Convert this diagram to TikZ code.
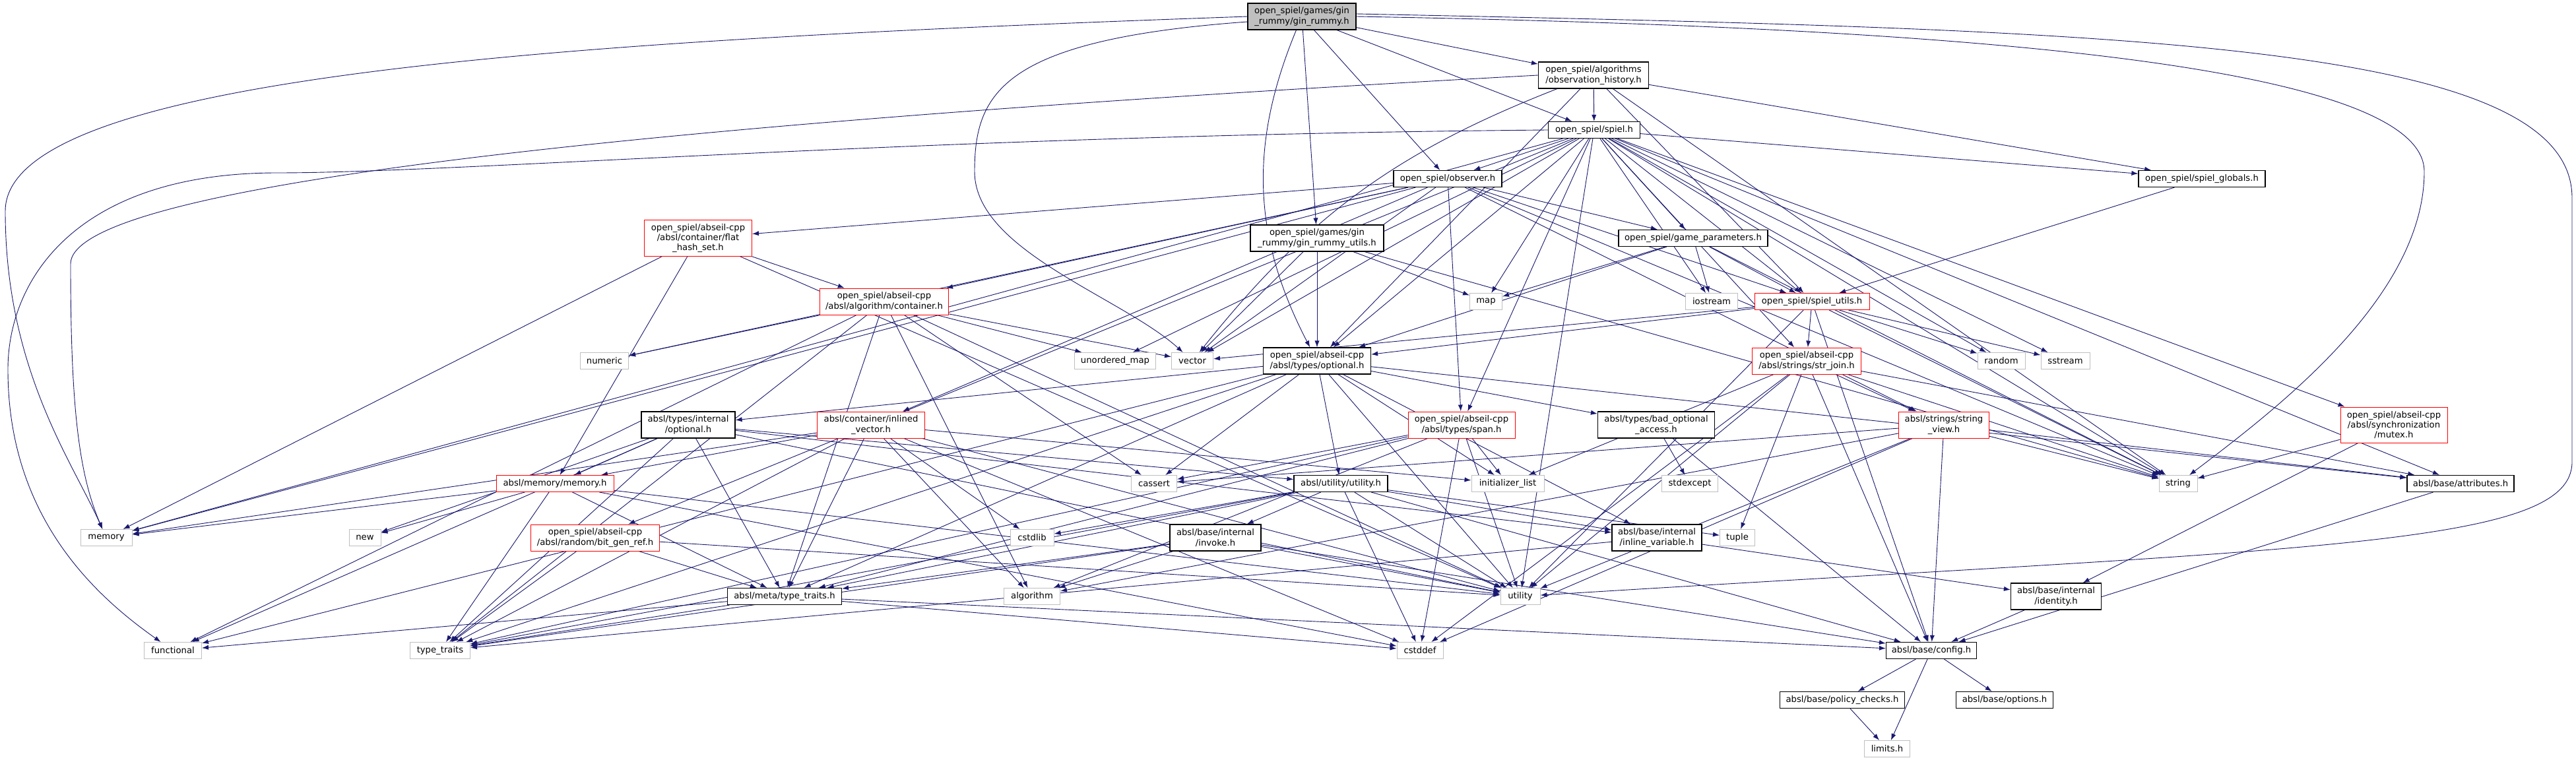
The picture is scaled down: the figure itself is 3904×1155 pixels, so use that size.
\documentclass[tikz,border=0pt]{standalone}
\usepackage{fontspec}
\setmainfont{DejaVu Sans}
\usetikzlibrary{arrows.meta,backgrounds}
\definecolor{edgeblue}{HTML}{191970}
\definecolor{sysgray}{HTML}{BFBFBF}
\definecolor{rootgray}{HTML}{BFBFBF}
\tikzset{
  hdr/.style   ={draw=black, rectangle, fill=white, align=center, inner sep=1pt, minimum height=12.5pt, line width=0.6pt, font=\fontsize{6.6}{7.7}\selectfont},
  trunc/.style ={hdr, draw=red, line width=0.5pt},
  sys/.style   ={hdr, draw=sysgray, line width=0.5pt},
  root/.style  ={hdr, fill=rootgray},
  two/.style   ={minimum height=20pt},
  three/.style ={minimum height=27pt},
  inc/.style   ={color=edgeblue, line width=0.45pt, -{Latex[length=5pt,width=3.6pt]}},
}

\begin{document}
\begin{tikzpicture}[x=0.5pt, y=-0.5pt]
  \useasboundingbox (0,0) rectangle (3904,1155);

  % rows from top to bottom
  \node[root, two, minimum width=82pt] (gin) at (1973,25) {open\_spiel/games/gin\\\_rummy/gin\_rummy.h};
  \node[hdr, two, minimum width=83.5pt] (obs) at (2415,114) {open\_spiel/algorithms\\/observation\_history.h};
  \node[hdr, minimum width=69.5pt] (spiel) at (2416,197) {open\_spiel/spiel.h};
  \node[hdr, minimum width=82pt] (observer) at (2194,271) {open\_spiel/observer.h};
  \node[hdr, minimum width=96pt] (globals) at (3337,271) {open\_spiel/spiel\_globals.h};
  \node[trunc, three, minimum width=81.5pt] (fhs) at (1058,361) {open\_spiel/abseil-cpp\\/absl/container/flat\\\_hash\_set.h};
  \node[hdr, two, minimum width=101pt] (ginu) at (1996,361) {open\_spiel/games/gin\\\_rummy/gin\_rummy\_utils.h};
  \node[hdr, minimum width=113pt] (gparams) at (2566,361) {open\_spiel/game\_parameters.h};
  \node[trunc, two, minimum width=97.5pt] (cont) at (1340,457) {open\_spiel/abseil-cpp\\/absl/algorithm/container.h};
  \node[sys, minimum width=24.5pt] (map) at (2252,457) {map};
  \node[sys, minimum width=39.5pt] (iostream) at (2594,457) {iostream};
  \node[trunc, minimum width=87pt] (sutils) at (2746,457) {open\_spiel/spiel\_utils.h};
  \node[sys, minimum width=36.5pt] (numeric) at (916,547) {numeric};
  \node[sys, minimum width=61.5pt] (umap) at (1690,547) {unordered\_map};
  \node[sys, minimum width=31.5pt] (vector) at (1807,547) {vector};
  \node[hdr, two, minimum width=81.5pt] (opt) at (1996,547) {open\_spiel/abseil-cpp\\/absl/types/optional.h};
  \node[trunc, two, minimum width=82.5pt] (strjoin) at (2738,547) {open\_spiel/abseil-cpp\\/absl/strings/str\_join.h};
  \node[sys, minimum width=36pt] (random) at (3033,547) {random};
  \node[sys, minimum width=37pt] (sstream) at (3130,547) {sstream};
  \node[hdr, two, minimum width=71pt] (iopt) at (1043,644) {absl/types/internal\\/optional.h};
  \node[trunc, two, minimum width=81.5pt] (inlv) at (1320,644) {absl/container/inlined\\\_vector.h};
  \node[trunc, two, minimum width=81pt] (span) at (2215,644) {open\_spiel/abseil-cpp\\/absl/types/span.h};
  \node[hdr, two, minimum width=88.5pt] (bad) at (2510,644) {absl/types/bad\_optional\\\_access.h};
  \node[trunc, two, minimum width=68.5pt] (sview) at (2946,644) {absl/strings/string\\\_view.h};
  \node[trunc, three, minimum width=81pt] (mutex) at (3628,644) {open\_spiel/abseil-cpp\\/absl/synchronization\\/mutex.h};
  \node[trunc, minimum width=89pt] (memh) at (841,733) {absl/memory/memory.h};
  \node[sys, minimum width=34.5pt] (cassert) at (1749,733) {cassert};
  \node[hdr, minimum width=71pt] (util) at (2032,733) {absl/utility/utility.h};
  \node[sys, minimum width=55pt] (initl) at (2285,733) {initializer\_list};
  \node[sys, minimum width=42.5pt] (stdexcept) at (2561,733) {stdexcept};
  \node[sys, minimum width=29pt] (string) at (3301,733) {string};
  \node[hdr, minimum width=81pt] (attr) at (3729,733) {absl/base/attributes.h};
  \node[sys, minimum width=39pt] (memory) at (161,815) {memory};
  \node[sys, minimum width=24pt] (new) at (553,815) {new};
  \node[trunc, two, minimum width=97.5pt] (bitgen) at (902,815) {open\_spiel/abseil-cpp\\/absl/random/bit\_gen\_ref.h};
  \node[sys, minimum width=33pt] (cstdlib) at (1564,815) {cstdlib};
  \node[hdr, two, minimum width=69pt] (invoke) at (1842,815) {absl/base/internal\\/invoke.h};
  \node[hdr, two, minimum width=68pt] (inlvar) at (2511,815) {absl/base/internal\\/inline\_variable.h};
  \node[sys, minimum width=26.5pt] (tuple) at (2633,815) {tuple};
  \node[hdr, minimum width=86.5pt] (meta) at (1189,904) {absl/meta/type\_traits.h};
  \node[sys, minimum width=42.5pt] (algorithm) at (1564,904) {algorithm};
  \node[sys, minimum width=30pt] (utility) at (2304,904) {utility};
  \node[hdr, two, minimum width=68.5pt] (identity) at (3116,904) {absl/base/internal\\/identity.h};
  \node[sys, minimum width=43.5pt] (functional) at (262,986) {functional};
  \node[sys, minimum width=45.5pt] (typetraits) at (667,986) {type\_traits};
  \node[sys, minimum width=35pt] (cstddef) at (2152,986) {cstddef};
  \node[hdr, minimum width=68.5pt] (config) at (2927,986) {absl/base/config.h};
  \node[hdr, minimum width=94.5pt] (policy) at (2792,1061) {absl/base/policy\_checks.h};
  \node[hdr, minimum width=73.5pt] (options) at (3038,1061) {absl/base/options.h};
  \node[sys, minimum width=34.5pt] (limits) at (2860,1135) {limits.h};

  \begin{scope}[on background layer]
    \fill[white] (0,0) rectangle (3904,1155);

    % long detours round the sides
    \draw[inc] (gin.west) .. controls (900,60) and (8,110) .. (8,320) .. controls (8,560) and (110,700) .. (memory);
    \draw[inc] ([yshift=-4pt]gin.west) .. controls (1520,60) and (1477,140) .. (1477,260) .. controls (1477,380) and (1700,450) .. (vector);
    \draw[inc] (gin.east) .. controls (2900,40) and (3674,90) .. (3674,260) .. controls (3674,450) and (3450,620) .. (string);
    \draw[inc] ([yshift=2pt]gin.east) .. controls (3200,45) and (3898,60) .. (3898,300) -- (3898,700) .. controls (3898,830) and (3500,830) .. (utility);
    \draw[inc] (obs.west) .. controls (1300,170) and (107,260) .. (107,400) .. controls (107,620) and (120,720) .. (memory);
    \draw[inc] (spiel.west) .. controls (1400,205) and (700,262) .. (420,262) .. controls (120,262) and (12,420) .. (12,560) .. controls (12,780) and (140,900) .. (functional);

    % include edges
    \path[inc] (gin) edge[bend right=25] (opt) edge (ginu) edge (observer) edge (spiel) edge (obs);
    \path[inc] (obs) edge (spiel) edge (opt) edge (globals) edge (sutils) edge (string) edge[bend right=15] (vector);
    \path[inc] (spiel) edge (observer) edge (gparams) edge (map) edge (iostream) edge (sutils) edge (strjoin)
      edge (random) edge (sstream) edge (string) edge (globals) edge (mutex) edge (span) edge (opt)
      edge (bitgen) edge (memory) edge (vector) edge (umap) edge (utility) edge (attr);
    \path[inc] (observer) edge (fhs) edge (cont) edge (inlv) edge (numeric) edge (memory) edge (vector)
      edge (span) edge (gparams) edge (sutils) edge (string) edge (sview);
    \path[inc] (globals) edge (sutils);
    \path[inc] (fhs) edge (cont) edge (memh) edge (memory) edge (utility);
    \path[inc] (ginu) edge (map) edge (opt) edge (vector) edge (string);
    \path[inc] (gparams) edge (map) edge (iostream) edge (sutils) edge (opt) edge (string);
    \path[inc] (cont) edge (numeric) edge (umap) edge (vector) edge (cassert) edge (algorithm)
      edge (utility) edge (typetraits) edge (functional) edge (meta);
    \path[inc] (sutils) edge (opt) edge (vector) edge (strjoin) edge (random) edge (sstream)
      edge (string) edge (utility) edge (config);
    \path[inc] (opt) edge (bad) edge (iopt) edge (util) edge (inlvar) edge (attr) edge (meta)
      edge (typetraits) edge (functional) edge (initl) edge (utility) edge (cassert);
    \path[inc] (strjoin) edge (sview) edge (tuple) edge (config) edge (string) edge (attr)
      edge (initl) edge (utility) edge (cstddef);
    \path[inc] (iopt) edge (memh) edge (new) edge (functional) edge (typetraits) edge (meta)
      edge (util) edge (inlvar) edge (utility);
    \path[inc] (inlv) edge (memh) edge (meta) edge (algorithm) edge (cstdlib) edge (cstddef)
      edge (utility) edge (initl) edge (typetraits) edge (memory);
    \path[inc] (span) edge (initl) edge (utility) edge (algorithm) edge (cassert) edge (cstddef)
      edge (meta) edge (typetraits);
    \path[inc] (bad) edge (stdexcept) edge (config);
    \path[inc] (sview) edge (string) edge (attr) edge (config) edge (cassert) edge (algorithm)
      edge (cstddef) edge (utility);
    \path[inc] (mutex) edge (string) edge (identity);
    \path[inc] (memh) edge (memory) edge (new) edge (typetraits) edge (meta) edge (cstddef) edge (utility);
    \path[inc] (util) edge (invoke) edge (inlvar) edge (tuple) edge (cstdlib) edge (cstddef)
      edge (meta) edge (typetraits) edge (utility) edge (config);
    \path[inc] (attr) edge (config);
    \path[inc] (bitgen) edge (typetraits) edge (meta) edge (utility);
    \path[inc] (invoke) edge (algorithm) edge (meta) edge (typetraits) edge (utility) edge (config);
    \path[inc] (inlvar) edge (typetraits) edge (identity);
    \path[inc] (meta) edge (typetraits) edge (functional) edge (cstddef) edge (config);
    \path[inc] (identity) edge (config);
    \path[inc] (config) edge (policy) edge (options) edge (limits);
    \path[inc] (policy) edge (limits);
  \end{scope}
\end{tikzpicture}
\end{document}
